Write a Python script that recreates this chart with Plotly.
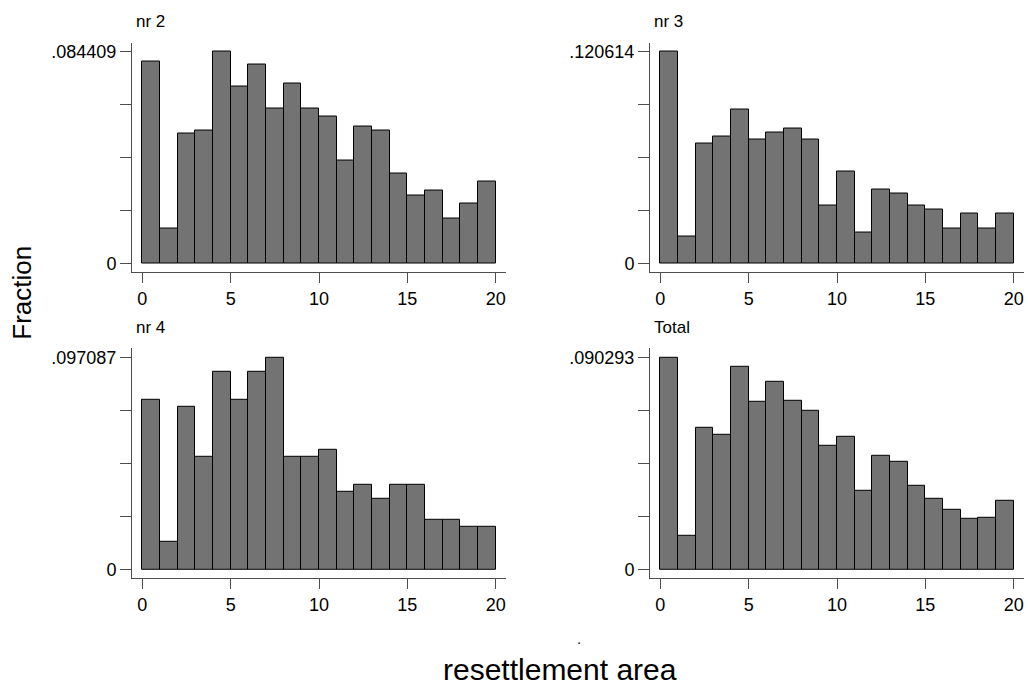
import plotly.graph_objects as go

# ---- data ----
bin_left = [0, 1, 2, 3, 4, 5, 6, 7, 8, 9, 10, 11, 12, 13, 14, 15, 16, 17, 18, 19]

nr2 = [0.0805, 0.0141, 0.0517, 0.0530, 0.084409, 0.0706, 0.0794, 0.0616, 0.0715, 0.0616,
       0.0587, 0.0410, 0.0547, 0.0529, 0.0359, 0.0270, 0.0290, 0.0179, 0.0240, 0.0328]
nr3 = [0.120614, 0.0156, 0.0682, 0.0722, 0.0878, 0.0705, 0.0746, 0.0769, 0.0705, 0.0332,
       0.0526, 0.0177, 0.0422, 0.0398, 0.0332, 0.0309, 0.0202, 0.0288, 0.0202, 0.0288]
nr4 = [0.077670, 0.012945, 0.074434, 0.051780, 0.090615, 0.077670, 0.090615, 0.097087, 0.051780, 0.051780,
       0.055016, 0.035599, 0.038835, 0.032362, 0.038835, 0.038835, 0.022654, 0.022654, 0.019417, 0.019417]
total = [0.090293, 0.0142, 0.0603, 0.0576, 0.0865, 0.0716, 0.0802, 0.0718, 0.0678, 0.0528,
         0.0566, 0.0338, 0.0485, 0.0460, 0.0357, 0.0300, 0.0256, 0.0215, 0.0221, 0.0293]

panel_titles = ["nr 2", "nr 3", "nr 4", "Total"]
ymax_values = [0.084409, 0.120614, 0.097087, 0.090293]
ymax_labels = [".084409", ".120614", ".097087", ".090293"]
x_ticks = [0, 5, 10, 15, 20]
x_ticklabels = ["0", "5", "10", "15", "20"]

series = [nr2, nr3, nr4, total]

# ---- layout geometry ----
W, H = 1028, 689
FONT = "Liberation Sans, Arial, Helvetica, sans-serif"
AX = "#4d4d4d"
BAR = "#737373"

x_domains = [(132 / W, 506 / W), (650 / W, 1024 / W), (132 / W, 506 / W), (650 / W, 1024 / W)]
y_domains = [(1 - 272.5 / H, 1 - 41.7 / H), (1 - 272.5 / H, 1 - 41.7 / H),
             (1 - 580 / H, 1 - 348.3 / H), (1 - 580 / H, 1 - 348.3 / H)]
y_pad = [(0.040, 1.042), (0.040, 1.042), (0.042, 1.047), (0.042, 1.047)]

fig = go.Figure()
layout = dict(
    width=W, height=H,
    margin=dict(l=0, r=0, t=0, b=0),
    paper_bgcolor="white", plot_bgcolor="white",
    showlegend=False, bargap=0,
    font=dict(family=FONT, color="black"),
)

annotations = []
for i, (vals, title, m, lab) in enumerate(zip(series, panel_titles, ymax_values, ymax_labels)):
    k = "" if i == 0 else str(i + 1)
    fig.add_trace(go.Bar(
        x=bin_left, y=vals, width=1, offset=0,
        marker=dict(color=BAR, line=dict(color="black", width=1)),
        xaxis="x" + k, yaxis="y" + k, hoverinfo="skip",
    ))
    layout["xaxis" + k] = dict(
        domain=list(x_domains[i]), anchor="y" + k,
        range=[-0.58, 20.58], showgrid=False, zeroline=False,
        showline=True, linecolor=AX, linewidth=1,
        ticks="outside", ticklen=10, tickcolor=AX, tickwidth=1,
        tickvals=x_ticks, ticktext=x_ticklabels,
        tickfont=dict(size=18, family=FONT, color="black"),
        fixedrange=True,
    )
    lo, hi = y_pad[i]
    layout["yaxis" + k] = dict(
        domain=list(y_domains[i]), anchor="x" + k,
        range=[-lo * m, hi * m], showgrid=False, zeroline=False,
        showline=True, linecolor=AX, linewidth=1,
        ticks="outside", ticklen=11, tickcolor=AX, tickwidth=1,
        tickvals=[0, m / 4, m / 2, 3 * m / 4, m],
        ticktext=["0", "", "", "", lab],
        tickfont=dict(size=18, family=FONT, color="black"),
        fixedrange=True,
    )
    ty = 21 if i < 2 else 328
    annotations.append(dict(
        text=title, xref="paper", yref="paper",
        x=x_domains[i][0] + 2 / W, y=1 - ty / H,
        xanchor="left", yanchor="middle", showarrow=False,
        font=dict(size=17, family=FONT, color="black"),
    ))

annotations.append(dict(
    text="Fraction", xref="paper", yref="paper",
    x=22 / W, y=1 - 293 / H, textangle=-90,
    xanchor="center", yanchor="middle", showarrow=False,
    font=dict(size=26, family=FONT, color="black"),
))
annotations.append(dict(
    text=".", xref="paper", yref="paper",
    x=579 / W, y=1 - 640 / H,
    xanchor="center", yanchor="middle", showarrow=False, borderpad=0,
    font=dict(size=15, family=FONT, color="black"),
))
annotations.append(dict(
    text="resettlement area", xref="paper", yref="paper",
    x=560 / W, y=0,
    xanchor="center", yanchor="bottom", showarrow=False, borderpad=0,
    font=dict(size=30, family=FONT, color="black"),
))

layout["annotations"] = annotations
fig.update_layout(**layout)
fig.write_html("out.html", config={"displayModeBar": False})

# remove the default page margin so the figure sits at the window origin
with open("out.html", "r", encoding="utf-8") as f:
    html = f.read()
html = html.replace("<body>", '<body style="margin:0;padding:0;overflow:hidden">', 1)
with open("out.html", "w", encoding="utf-8") as f:
    f.write(html)
